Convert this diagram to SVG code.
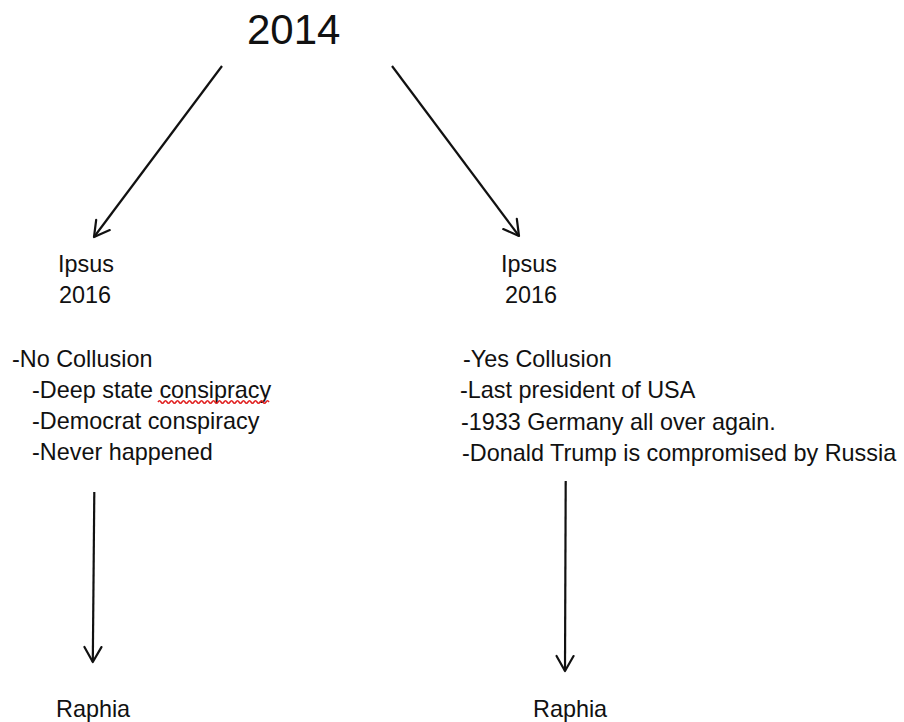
<svg xmlns="http://www.w3.org/2000/svg" width="904" height="722" viewBox="0 0 904 722">
<defs>
<style>
text{font-family:"Liberation Sans",Arial,sans-serif;fill:#111;font-size:23.4px}
.title{font-size:42px}
.conn line{stroke:#111;stroke-width:2.2;fill:none;marker-end:url(#ah)}
</style>
<marker id="ah" markerUnits="userSpaceOnUse" markerWidth="20" markerHeight="20" viewBox="-17 -10 20 20" refX="0" refY="0" orient="auto">
<path d="M-15,-8.5 L0,0 L-15,8.5" fill="none" stroke="#111" stroke-width="2.2" stroke-linecap="round" stroke-linejoin="round"/>
</marker>
</defs>
<rect width="904" height="722" fill="#fff"/>
<g id="n2014"><text class="title" x="247" y="44">2014</text></g>
<g id="ipsusLeft">
<text x="58" y="272">Ipsus</text>
<text x="59" y="303">2016</text>
</g>
<g id="ipsusRight">
<text x="501" y="272">Ipsus</text>
<text x="505" y="303">2016</text>
</g>
<g id="listLeft">
<text x="12" y="367">-No Collusion</text>
<text x="32" y="398">-Deep state consipracy</text>
<text x="32" y="429">-Democrat conspiracy</text>
<text x="32" y="460">-Never happened</text>
<path d="M158,402 q1.5,-2.5 3,0 t3,0 t3,0 t3,0 t3,0 t3,0 t3,0 t3,0 t3,0 t3,0 t3,0 t3,0 t3,0 t3,0 t3,0 t3,0 t3,0 t3,0 t3,0 t3,0 t3,0 t3,0 t3,0 t3,0 t3,0 t3,0 t3,0 t3,0 t3,0 t3,0 t3,0 t3,0 t3,0 t3,0 t3,0 t3,0 t3,0" fill="none" stroke="#e02020" stroke-width="1.5"/>
</g>
<g id="listRight">
<text x="463" y="367">-Yes Collusion</text>
<text x="460" y="398">-Last president of USA</text>
<text x="461" y="430">-1933 Germany all over again.</text>
<text x="462" y="461">-Donald Trump is compromised by Russia</text>
</g>
<g id="raphiaLeft"><text x="56" y="717">Raphia</text></g>
<g id="raphiaRight"><text x="533" y="717">Raphia</text></g>
<g class="conn" id="connectors">
<line x1="222" y1="66" x2="94" y2="237"/>
<line x1="392" y1="66" x2="519" y2="236"/>
<line x1="94.3" y1="492" x2="92.8" y2="662"/>
<line x1="565.7" y1="481" x2="565" y2="671"/>
</g>
</svg>
